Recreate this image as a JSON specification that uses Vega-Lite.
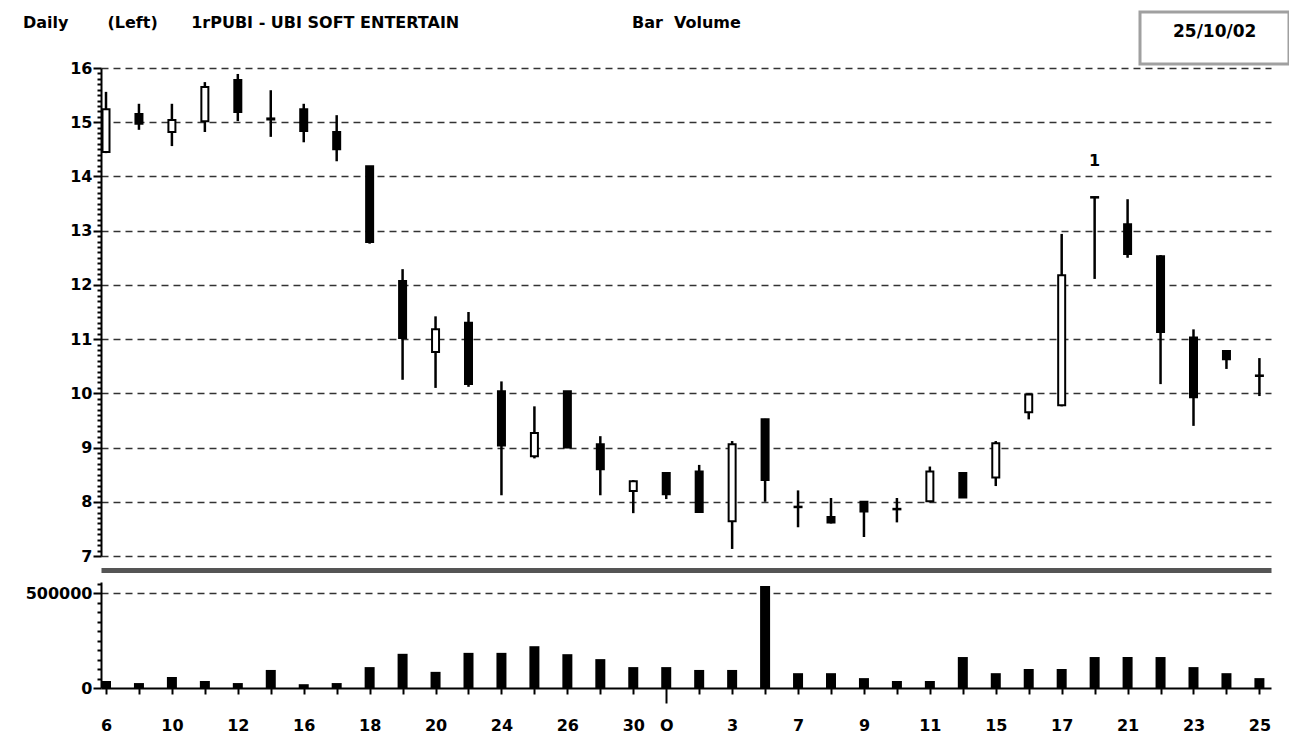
{
  "$schema": "https://vega.github.io/schema/vega-lite/v6.json",
  "background": "white",
  "padding": {"left": 23, "top": 15, "right": 0, "bottom": 0},
  "bounds": "flush",
  "spacing": 26,
  "title": {
    "text": "Daily\u00a0\u00a0\u00a0\u00a0\u00a0\u00a0\u00a0(Left)\u00a0\u00a0\u00a0\u00a0\u00a0\u00a01rPUBI\u00a0-\u00a0UBI\u00a0SOFT\u00a0ENTERTAIN\u00a0\u00a0\u00a0\u00a0\u00a0\u00a0\u00a0\u00a0\u00a0\u00a0\u00a0\u00a0\u00a0\u00a0\u00a0\u00a0\u00a0\u00a0\u00a0\u00a0\u00a0\u00a0\u00a0\u00a0\u00a0\u00a0\u00a0\u00a0\u00a0\u00a0\u00a0Bar\u00a0\u00a0Volume",
    "anchor": "start",
    "frame": "group",
    "font": "DejaVu Sans",
    "fontSize": 16,
    "fontWeight": "bold",
    "color": "black",
    "offset": -11,
    "dx": -78
  },
  "datasets": {
    "ohlc": [
      {"i": 0, "o": 14.45, "h": 15.56, "l": 14.43, "c": 15.24, "v": 37000},
      {"i": 1, "o": 15.15, "h": 15.34, "l": 14.86, "c": 14.97, "v": 26000},
      {"i": 2, "o": 14.82, "h": 15.34, "l": 14.56, "c": 15.04, "v": 58000},
      {"i": 3, "o": 15.02, "h": 15.74, "l": 14.82, "c": 15.65, "v": 37000},
      {"i": 4, "o": 15.78, "h": 15.89, "l": 15.02, "c": 15.19, "v": 26000},
      {"i": 5, "o": 15.07, "h": 15.59, "l": 14.73, "c": 15.05, "v": 95000},
      {"i": 6, "o": 15.24, "h": 15.34, "l": 14.63, "c": 14.84, "v": 20000},
      {"i": 7, "o": 14.82, "h": 15.13, "l": 14.28, "c": 14.5, "v": 26000},
      {"i": 8, "o": 14.19, "h": 14.19, "l": 12.76, "c": 12.79, "v": 110000},
      {"i": 9, "o": 12.07, "h": 12.29, "l": 10.25, "c": 11.02, "v": 180000},
      {"i": 10, "o": 10.76, "h": 11.42, "l": 10.1, "c": 11.18, "v": 85000},
      {"i": 11, "o": 11.3, "h": 11.5, "l": 10.12, "c": 10.17, "v": 185000},
      {"i": 12, "o": 10.04, "h": 10.22, "l": 8.12, "c": 9.04, "v": 185000},
      {"i": 13, "o": 8.84, "h": 9.76, "l": 8.8, "c": 9.27, "v": 220000},
      {"i": 14, "o": 10.04, "h": 10.04, "l": 8.99, "c": 9.0, "v": 178000},
      {"i": 15, "o": 9.06, "h": 9.21, "l": 8.12, "c": 8.6, "v": 152000},
      {"i": 16, "o": 8.2, "h": 8.4, "l": 7.79, "c": 8.38, "v": 110000},
      {"i": 17, "o": 8.53, "h": 8.54, "l": 8.05, "c": 8.14, "v": 110000},
      {"i": 18, "o": 8.56, "h": 8.68, "l": 7.8, "c": 7.81, "v": 95000},
      {"i": 19, "o": 7.64, "h": 9.12, "l": 7.13, "c": 9.06, "v": 95000},
      {"i": 20, "o": 9.52, "h": 9.53, "l": 8.0, "c": 8.4, "v": 537000},
      {"i": 21, "o": 7.91, "h": 8.21, "l": 7.53, "c": 7.9, "v": 78000},
      {"i": 22, "o": 7.72, "h": 8.07, "l": 7.6, "c": 7.62, "v": 78000},
      {"i": 23, "o": 8.0, "h": 8.0, "l": 7.35, "c": 7.82, "v": 52000},
      {"i": 24, "o": 7.87, "h": 8.07, "l": 7.62, "c": 7.86, "v": 37000},
      {"i": 25, "o": 8.01, "h": 8.65, "l": 7.99, "c": 8.56, "v": 37000},
      {"i": 26, "o": 8.53, "h": 8.53, "l": 8.08, "c": 8.08, "v": 163000},
      {"i": 27, "o": 8.45, "h": 9.12, "l": 8.29, "c": 9.08, "v": 78000},
      {"i": 28, "o": 9.65, "h": 10.0, "l": 9.52, "c": 9.98, "v": 100000},
      {"i": 29, "o": 9.78, "h": 12.94, "l": 9.76, "c": 12.18, "v": 100000},
      {"i": 30, "o": 13.62, "h": 13.63, "l": 12.11, "c": 13.61, "v": 163000, "note": "1"},
      {"i": 31, "o": 13.12, "h": 13.58, "l": 12.5, "c": 12.57, "v": 163000},
      {"i": 32, "o": 12.53, "h": 12.55, "l": 10.17, "c": 11.13, "v": 163000},
      {"i": 33, "o": 11.03, "h": 11.18, "l": 9.4, "c": 9.93, "v": 110000},
      {"i": 34, "o": 10.78, "h": 10.79, "l": 10.45, "c": 10.63, "v": 78000},
      {"i": 35, "o": 10.32, "h": 10.65, "l": 9.95, "c": 10.33, "v": 52000}
    ]
  },
  "vconcat": [
    {
      "width": 1170,
      "height": 488,
      "data": {"name": "ohlc"},
      "encoding": {
        "x": {
          "field": "i",
          "type": "quantitative",
          "scale": {"domain": [0, 35.2], "nice": false, "zero": false},
          "axis": {"orient": "bottom", "offset": 14, "domain": true, "domainWidth": 5, "domainColor": "#555555", "ticks": false, "labels": false, "grid": false, "title": null}
        }
      },
      "layer": [
        {
          "mark": {"type": "rule", "strokeWidth": 2.5, "color": "black"},
          "encoding": {
            "y": {
              "field": "l",
              "type": "quantitative",
              "scale": {"domain": [7, 16], "nice": false, "zero": false},
              "axis": {
                "title": null,
                "values": [7,7.1,7.2,7.3,7.4,7.5,7.6,7.7,7.8,7.9,8,8.1,8.2,8.3,8.4,8.5,8.6,8.7,8.8,8.9,9,9.1,9.2,9.3,9.4,9.5,9.6,9.7,9.8,9.9,10,10.1,10.2,10.3,10.4,10.5,10.6,10.7,10.8,10.9,11,11.1,11.2,11.3,11.4,11.5,11.6,11.7,11.8,11.9,12,12.1,12.2,12.3,12.4,12.5,12.6,12.7,12.8,12.9,13,13.1,13.2,13.3,13.4,13.5,13.6,13.7,13.8,13.9,14,14.1,14.2,14.3,14.4,14.5,14.6,14.7,14.8,14.9,15,15.1,15.2,15.3,15.4,15.5,15.6,15.7,15.8,15.9,16],
                "tickCount": 1000,
                "tickMinStep": 0.01,
                "labelExpr": "datum.value % 1 == 0 ? format(datum.value, 'd') : ''",
                "tickSize": {"condition": {"test": "datum.value % 1 == 0", "value": 8}, "value": 4},
                "grid": true,
                "gridOpacity": {"condition": {"test": "datum.value % 1 == 0", "value": 1}, "value": 0},
                "labelPadding": 1,
                "labelOverlap": false,
                "labelBound": false,
                "labelFlush": false
              }
            },
            "y2": {"field": "h"},
            "opacity": {
              "datum": "25/10/02",
              "scale": {"range": [1]},
              "legend": {
                "orient": "none",
                "legendX": 1102,
                "legendY": -48,
                "title": null,
                "padding": 0,
                "symbolType": "M-7.45,-1.95H7.45V3.25H-7.45Z",
                "symbolSize": 400,
                "symbolStrokeWidth": 3,
                "symbolFillColor": "white",
                "symbolStrokeColor": "#a0a0a0",
                "labelFont": "DejaVu Sans",
                "labelFontSize": 17,
                "labelFontWeight": "bold",
                "labelColor": "black",
                "labelOffset": -53,
                "encode": {
                  "symbols": {"update": {"fill": {"value": "white"}, "stroke": {"value": "#a0a0a0"}, "strokeWidth": {"value": 3}}}
                }
              }
            }
          }
        },
        {
          "mark": {"type": "bar", "size": 7, "stroke": "black", "strokeWidth": 2},
          "encoding": {
            "y": {
              "field": "o",
              "type": "quantitative",
              "axis": {
                "title": null,
                "values": [7,7.1,7.2,7.3,7.4,7.5,7.6,7.7,7.8,7.9,8,8.1,8.2,8.3,8.4,8.5,8.6,8.7,8.8,8.9,9,9.1,9.2,9.3,9.4,9.5,9.6,9.7,9.8,9.9,10,10.1,10.2,10.3,10.4,10.5,10.6,10.7,10.8,10.9,11,11.1,11.2,11.3,11.4,11.5,11.6,11.7,11.8,11.9,12,12.1,12.2,12.3,12.4,12.5,12.6,12.7,12.8,12.9,13,13.1,13.2,13.3,13.4,13.5,13.6,13.7,13.8,13.9,14,14.1,14.2,14.3,14.4,14.5,14.6,14.7,14.8,14.9,15,15.1,15.2,15.3,15.4,15.5,15.6,15.7,15.8,15.9,16],
                "tickCount": 1000,
                "tickMinStep": 0.01,
                "labelExpr": "datum.value % 1 == 0 ? format(datum.value, 'd') : ''",
                "tickSize": {"condition": {"test": "datum.value % 1 == 0", "value": 8}, "value": 4},
                "grid": true,
                "gridOpacity": {"condition": {"test": "datum.value % 1 == 0", "value": 1}, "value": 0},
                "labelPadding": 1,
                "labelOverlap": false,
                "labelBound": false,
                "labelFlush": false
              }
            },
            "y2": {"field": "c"},
            "fill": {"condition": {"test": "datum.c > datum.o", "value": "white"}, "value": "black"}
          }
        },
        {
          "transform": [{"filter": "datum.note"}],
          "mark": {"type": "text", "dy": -36, "font": "DejaVu Sans", "fontWeight": "bold", "fontSize": 16, "color": "black"},
          "encoding": {
            "y": {
              "field": "h",
              "type": "quantitative",
              "axis": {
                "title": null,
                "values": [7,7.1,7.2,7.3,7.4,7.5,7.6,7.7,7.8,7.9,8,8.1,8.2,8.3,8.4,8.5,8.6,8.7,8.8,8.9,9,9.1,9.2,9.3,9.4,9.5,9.6,9.7,9.8,9.9,10,10.1,10.2,10.3,10.4,10.5,10.6,10.7,10.8,10.9,11,11.1,11.2,11.3,11.4,11.5,11.6,11.7,11.8,11.9,12,12.1,12.2,12.3,12.4,12.5,12.6,12.7,12.8,12.9,13,13.1,13.2,13.3,13.4,13.5,13.6,13.7,13.8,13.9,14,14.1,14.2,14.3,14.4,14.5,14.6,14.7,14.8,14.9,15,15.1,15.2,15.3,15.4,15.5,15.6,15.7,15.8,15.9,16],
                "tickCount": 1000,
                "tickMinStep": 0.01,
                "labelExpr": "datum.value % 1 == 0 ? format(datum.value, 'd') : ''",
                "tickSize": {"condition": {"test": "datum.value % 1 == 0", "value": 8}, "value": 4},
                "grid": true,
                "gridOpacity": {"condition": {"test": "datum.value % 1 == 0", "value": 1}, "value": 0},
                "labelPadding": 1,
                "labelOverlap": false,
                "labelBound": false,
                "labelFlush": false
              }
            },
            "text": {"field": "note"}
          }
        }
      ]
    },
    {
      "width": 1170,
      "height": 106,
      "data": {"name": "ohlc"},
      "mark": {"type": "bar", "size": 10, "clip": true, "color": "black"},
      "encoding": {
        "x": {
          "field": "i",
          "type": "quantitative",
          "scale": {"domain": [0, 35.2], "nice": false, "zero": false},
          "axis": {
            "title": null,
            "values": [0,1,2,3,4,5,6,7,8,9,10,11,12,13,14,15,16,17,18,19,20,21,22,23,24,25,26,27,28,29,30,31,32,33,34,35],
            "tickCount": 1000,
            "labelExpr": "['6','','10','','12','','16','','18','','20','','24','','26','','30','O','','3','','7','','9','','11','','15','','17','','21','','23','','25'][datum.value]",
            "tickSize": {"condition": {"test": "datum.value == 17", "value": 15}, "value": 6},
            "labelPadding": {"condition": {"test": "datum.value == 17", "value": 14}, "value": 23},
            "labelOverlap": false,
            "labelBound": false,
            "labelFlush": false,
            "grid": false
          }
        },
        "y": {
          "field": "v",
          "type": "quantitative",
          "scale": {"domain": [0, 558000], "nice": false},
          "axis": {
            "title": null,
            "values": [0,50000,100000,150000,200000,250000,300000,350000,400000,450000,500000,550000],
            "tickCount": 1000,
            "format": "d",
            "labelExpr": "datum.value == 0 || datum.value == 500000 ? datum.label : ''",
            "tickSize": {"condition": {"test": "datum.value == 0 || datum.value == 500000", "value": 8}, "value": 4},
            "grid": true,
            "gridOpacity": {"condition": {"test": "datum.value == 500000", "value": 1}, "value": 0},
            "labelPadding": 1,
            "labelOverlap": false,
            "labelBound": false,
            "labelFlush": false
          }
        }
      }
    }
  ],
  "config": {
    "view": {"stroke": null},
    "font": "DejaVu Sans",
    "axis": {
      "labelFont": "DejaVu Sans",
      "labelFontWeight": "bold",
      "labelFontSize": 16,
      "labelColor": "black",
      "domainColor": "black",
      "domainWidth": 2,
      "tickColor": "black",
      "tickWidth": 2,
      "gridColor": "#333333",
      "gridDash": [7, 5],
      "gridWidth": 1.5
    }
  }
}
